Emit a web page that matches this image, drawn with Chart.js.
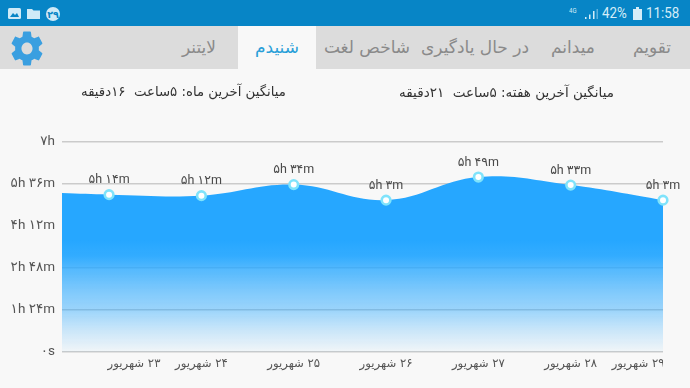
<!DOCTYPE html>
<html><head><meta charset="utf-8">
<script src="https://cdn.jsdelivr.net/npm/chart.js@4"></script>
<style>
html,body{margin:0;padding:0;width:690px;height:388px;overflow:hidden;background:#f8f8f8;font-family:"DejaVu Sans",sans-serif}
#c{position:absolute;left:0;top:0}
.abs{position:absolute;white-space:nowrap}
#status{left:0;top:0;width:690px;height:26px;background:#0785c6}
#tabs{left:0;top:26px;width:690px;height:43px;background:#dcdcdc}
#active{left:238px;top:26px;width:78px;height:43px;background:#f8f8f8}
.tab{top:26px;height:43px;line-height:42px;font-size:17px;color:#8a8a8a;text-align:center;transform:translateX(-50%)}
.avg{top:83px;font-size:13.4px;line-height:18px;color:#333;direction:rtl}
.st{color:#d5edf8;font-family:Roboto,sans-serif;font-size:15.500px;line-height:26px;top:0;transform:scaleX(.86);transform-origin:left center}
</style></head><body>
<canvas id="c" width="690" height="388"></canvas>
<div class="abs" id="status"></div>
<svg class="abs" style="left:7px;top:7px" width="56" height="14">
<rect x="1" y="1" width="13" height="11" rx="1.5" fill="#cfeaf7"/><path d="M3 10l3-4 2 2 2-2 2 4z" fill="#0785c6"/>
<path d="M20 2h5l1.5 1.5H33v8.5H20z" fill="#cfeaf7"/>
<circle cx="46" cy="7" r="7" fill="#cfeaf7"/>
<text x="46" y="10.5" font-size="9.5" font-weight="bold" text-anchor="middle" fill="#0785c6" font-family="DejaVu Sans">۲۹</text>
</svg>
<div class="abs st" style="left:569px;top:7px;font-size:7px;line-height:8px">4G</div>
<svg class="abs" style="left:584px;top:9px" width="14" height="11"><path d="M1 10V8h1.500v2zM5 10V5.500h1.500V10zM9 10V2h1.500v8z" fill="#d5edf8"/><path d="M12.500 10V0H14v10z" fill="#5fb2dd"/></svg>
<div class="abs st" style="left:602px">42%</div>
<svg class="abs" style="left:633px;top:7px" width="9" height="13"><path d="M3 0h3v2h3v11H0V2h3z" fill="#d5edf8"/></svg>
<div class="abs st" style="left:646px">11:58</div>
<div class="abs" id="tabs"></div>
<div class="abs" id="active"></div>
<svg class="abs" style="left:8px;top:27.500px" width="38" height="41" viewBox="0 0 24 24" preserveAspectRatio="none">
<path fill="#3a9fe0" fill-rule="evenodd" d="M19.430 12.980c.04-.32.070-.64.070-.98s-.03-.66-.07-.98l2.110-1.650c.19-.15.240-.42.120-.64l-2-3.460c-.12-.22-.39-.3-.61-.22l-2.490 1c-.52-.4-1.080-.73-1.690-.98l-.38-2.650C14.460 2.180 14.250 2 14 2h-4c-.25 0-.46.18-.49.42l-.38 2.650c-.61.25-1.170.59-1.690.98l-2.490-1c-.23-.09-.49 0-.61.22l-2 3.460c-.13.22-.07.49.12.64l2.110 1.650c-.04.32-.07.65-.07.98s.03.66.07.98l-2.110 1.650c-.19.15-.24.42-.12.64l2 3.460c.12.22.39.3.61.22l2.490-1c.52.4 1.080.73 1.690.98l.38 2.650c.03.24.24.42.49.42h4c.25 0 .46-.18.49-.42l.38-2.650c.61-.25 1.170-.59 1.690-.98l2.490 1c.23.09.49 0 .61-.22l2-3.460c.12-.22.07-.49-.12-.64l-2.110-1.650zM12 15.500c-1.930 0-3.500-1.570-3.500-3.500s1.570-3.500 3.500-3.500 3.500 1.570 3.500 3.500-1.570 3.500-3.500 3.500z"/>
</svg>
<div class="abs tab" style="left:199px">لایتنر</div>
<div class="abs tab" style="left:277px;color:#2a9fd8">شنیدم</div>
<div class="abs tab" style="left:367px">شاخص لغت</div>
<div class="abs tab" style="left:475px">در حال یادگیری</div>
<div class="abs tab" style="left:573px">میدانم</div>
<div class="abs tab" style="left:652px">تقویم</div>
<div class="abs avg" style="left:62px;width:224px;text-align:right;font-size:13.300px">میانگین آخرین ماه: ۵ساعت&nbsp; ۱۶دقیقه</div>
<div class="abs avg" style="left:379px;width:235px;text-align:right;font-size:13.500px">میانگین آخرین هفته: ۵ساعت&nbsp; ۲۱دقیقه</div>
<script>
const days = ["۲۳ شهریور","۲۴ شهریور","۲۵ شهریور","۲۶ شهریور","۲۷ شهریور","۲۸ شهریور","۲۹ شهریور"];
const minutes = [314,312,334,303,349,333,303];
const valueLabels = ["۵h ۱۴m","۵h ۱۲m","۵h ۳۴m","۵h ۳m","۵h ۴۹m","۵h ۳۳m","۵h ۳m"];
const leadInMinutes = 317;
const yTickLabels = {0:"۰s",84:"۱h ۲۴m",168:"۲h ۴۸m",252:"۴h ۱۲m",336:"۵h ۳۶m",420:"۷h"};

const pts = [{x:-0.51,y:leadInMinutes}].concat(minutes.map((v,i)=>({x:i,y:v})));
const tickPlaces = [0.27,1,2,3,4,5,5.73];
const FONT = 'Roboto,"DejaVu Sans",sans-serif';
const AR = '"DejaVu Sans",sans-serif';

const valueLabelPlugin = {
  id:'valueLabels',
  afterDraw(chart){
    const ctx=chart.ctx, a=chart.chartArea, meta=chart.getDatasetMeta(0);
    ctx.save();
    ctx.fillStyle='#f8f8f8';
    ctx.fillRect(a.right,a.bottom+2,690-a.right,30);
    ctx.font='12.5px '+FONT; ctx.fillStyle='#4a4a4a'; ctx.textAlign='center'; ctx.textBaseline='middle';
    valueLabels.forEach((t,i)=>{
      const p=meta.data[i+1];
      ctx.fillText(t,p.x,p.y-14.5);
    });
    ctx.restore();
  }
};

new Chart(document.getElementById('c'),{
  type:'line',
  data:{datasets:[{
    data:pts,
    clip:false,
    borderWidth:0,
    borderColor:'rgba(0,0,0,0)',
    fill:'origin',
    tension:0.4,
    backgroundColor(ctx){
      const a=ctx.chart.chartArea; if(!a) return '#26a7ff';
      const g=ctx.chart.ctx.createLinearGradient(0,a.top,0,a.bottom);
      g.addColorStop(0,'rgba(38,167,255,1)');
      g.addColorStop(0.47,'rgba(38,167,255,1)');
      g.addColorStop(0.545,'rgba(38,167,255,0.94)');
      g.addColorStop(0.607,'rgba(38,167,255,0.78)');
      g.addColorStop(0.71,'rgba(38,167,255,0.58)');
      g.addColorStop(0.80,'rgba(38,167,255,0.44)');
      g.addColorStop(0.896,'rgba(38,167,255,0.22)');
      g.addColorStop(1,'rgba(38,167,255,0.03)');
      return g;
    },
    pointRadius:c=>c.dataIndex===0?0:4.3,
    pointBorderWidth:2.6,
    pointBackgroundColor:'#ffffff',
    pointBorderColor:'#7fe3fb'
  }]},
  options:{
    responsive:false,animation:false,
    layout:{padding:{left:0,right:27,top:141.5,bottom:10}},
    plugins:{legend:{display:false},tooltip:{enabled:false}},
    scales:{
      x:{type:'linear',min:-0.51,max:6,
        grid:{display:false,drawTicks:false},border:{display:false},
        afterBuildTicks(s){s.ticks=tickPlaces.map(v=>({value:v}));},
        afterFit(s){s.height=26;},
        ticks:{autoSkip:false,maxRotation:0,padding:5,color:'#555',font:{size:11.700,family:AR},
          callback(v,i){return '\u200f'+days[i];}}
      },
      y:{min:0,max:420,
        grid:{color:'#cbcbcb',lineWidth:1.5,drawTicks:false},border:{display:false},
        afterBuildTicks(s){s.ticks=Object.keys(yTickLabels).map(v=>({value:+v}));},
        afterFit(s){s.width=62;},
        ticks:{padding:7,color:'#555',font:{size:13.500,family:FONT},callback(v){return yTickLabels[v];}}
      }
    }
  },
  plugins:[valueLabelPlugin]
});
</script>
</body></html>
